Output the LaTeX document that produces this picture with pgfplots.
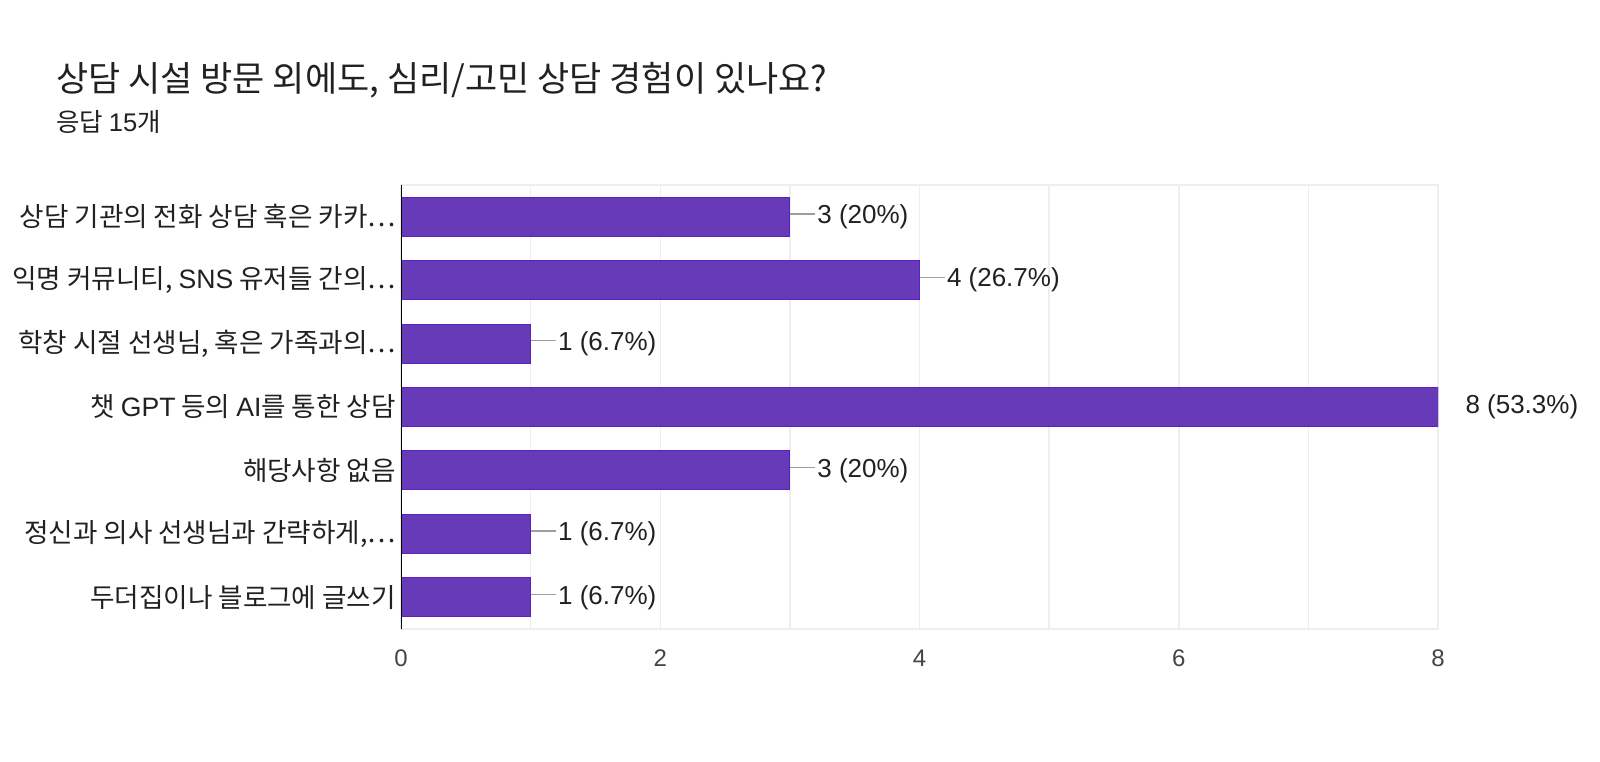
\documentclass[border=0pt]{standalone}
\usepackage{fontspec}
\setmainfont{Noto Sans CJK KR}
\newfontfamily\lat{Liberation Sans}
\usepackage{pgfplots}
\pgfplotsset{compat=1.18}
\definecolor{barfill}{HTML}{673AB7}
\definecolor{baredge}{HTML}{5E1FC0}
\definecolor{gridc}{HTML}{EEEEEE}
\definecolor{leader}{HTML}{9E9E9E}
\definecolor{tickc}{HTML}{444444}
\definecolor{labc}{HTML}{212121}
% gray leader from bar end to value label
\newcommand\ld{\textcolor{leader}{\rule[0.34em]{25pt}{1.4pt}}\hspace{2pt}}
\begin{document}
\begin{tikzpicture}[x=1pt,y=1pt]
\fill[white] (0,0) rectangle (1600,761);
\node[anchor=base west, inner sep=0pt, text=labc, font=\fontsize{35}{39}\selectfont]
  at (56,669) {상담 시설 방문 외에도, 심리/고민 상담 경험이 있나요?};
\node[anchor=base west, inner sep=0pt, text=labc, font=\fontsize{25.5}{29}\selectfont]
  at (56,629) {응답 {\lat 15}개};
\begin{axis}[
  at={(401pt,132pt)}, anchor=south west,
  width=1037pt, height=444pt, scale only axis,
  xmin=0, xmax=8, ymin=-0.5, ymax=6.5, y dir=reverse,
  xtick={0,2,4,6,8}, minor xtick={1,3,5,7},
  ytick={0,...,6},
  yticklabels={상담 기관의 전화 상담 혹은 카카…,
               {익명 커뮤니티, {\lat SNS} 유저들 간의…},
               {학창 시절 선생님, 혹은 가족과의…},
               챗 {\lat GPT} 등의 {\lat AI}를 통한 상담,
               해당사항 없음,
               {정신과 의사 선생님과 간략하게,…},
               두더집이나 블로그에 글쓰기},
  /pgf/number format/assume math mode=true,
  xmajorgrids, xminorgrids,
  major grid style={gridc, line width=1.5pt},
  minor grid style={gridc, line width=1.5pt},
  major tick length=0pt, minor tick length=0pt,
  axis line style={gridc, line width=1.5pt},
  xticklabel style={font=\lat\fontsize{24}{26}\selectfont, text=tickc,
                    inner sep=0pt, yshift=-21pt},
  yticklabel style={font=\fontsize{26.6}{30}\selectfont, text=labc,
                    inner sep=0pt, xshift=-5pt},
  xbar, bar width=39pt,
  point meta=explicit symbolic,
  nodes near coords,
  every node near coord/.append style={anchor=west, inner sep=0pt,
        font=\lat\fontsize{26}{28}\selectfont, text=labc},
]
\addplot[fill=barfill, draw=baredge, line width=1pt] coordinates {
  (3,0) [\ld 3 (20\%)]
  (4,1) [\ld 4 (26.7\%)]
  (1,2) [\ld 1 (6.7\%)]
  (8,3) [\hspace*{27pt}8 (53.3\%)]
  (3,4) [\ld 3 (20\%)]
  (1,5) [\ld 1 (6.7\%)]
  (1,6) [\ld 1 (6.7\%)]
};
\draw[black, line width=2pt] (axis cs:0,-0.5) -- (axis cs:0,6.5);
\end{axis}
\pgfresetboundingbox
\path[use as bounding box] (0,0) rectangle (1600,761);
\end{tikzpicture}
\end{document}
